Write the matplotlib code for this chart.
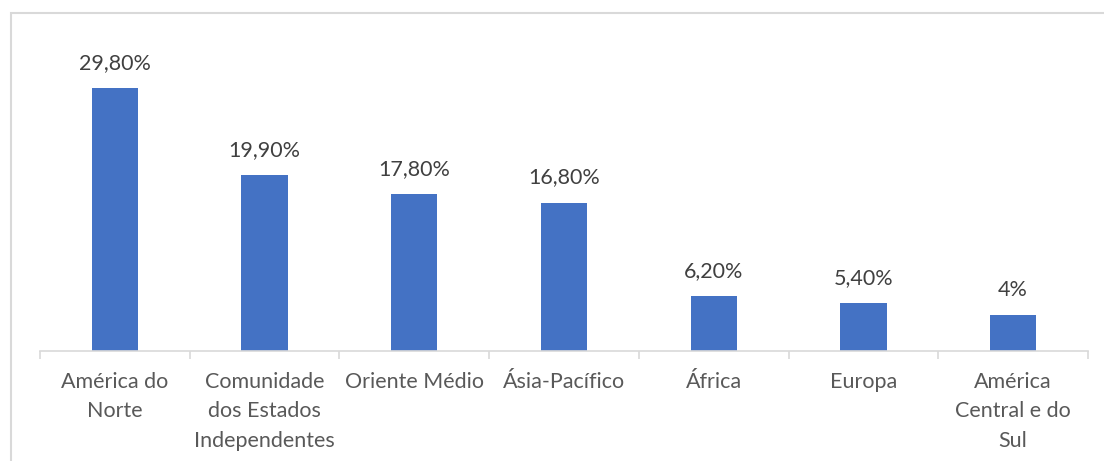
import matplotlib
matplotlib.use("Agg")
import matplotlib.pyplot as plt
from matplotlib.patches import Rectangle
from matplotlib.ticker import FixedLocator

plt.rcParams['font.family'] = ['Lato', 'DejaVu Sans']

# Data
categories = ["América do\nNorte", "Comunidade\ndos Estados\nIndependentes", "Oriente Médio",
              "Ásia-Pacífico", "África", "Europa", "América\nCentral e do\nSul"]
values = [29.8, 19.9, 17.8, 16.8, 6.2, 5.4, 4.0]
value_labels = ["29,80%", "19,90%", "17,80%", "16,80%", "6,20%", "5,40%", "4%"]

W, H = 1104, 461
fig = plt.figure(figsize=(W / 100, H / 100), dpi=100)
ax = fig.add_axes([40 / W, (H - 350.7) / H, (1088 - 40) / W, (350.7 - 42.5) / H])

x = list(range(len(categories)))
bars = ax.bar(x, values, width=0.31, color="#4472C4")

for rect, lab in zip(bars, value_labels):
    ax.annotate(lab, (rect.get_x() + rect.get_width() / 2, rect.get_height()),
                xytext=(0, 11), textcoords="offset points", ha="center", va="bottom",
                fontsize=15.5, color="#404040")

ax.set_xlim(-0.5, len(categories) - 0.5)
ax.set_ylim(0, 35)

ax.set_xticks(x)
ax.set_xticklabels(categories, fontsize=15.5, color="#595959", linespacing=1.6)
ax.tick_params(axis="x", which="major", length=0, pad=15)
ax.xaxis.set_minor_locator(FixedLocator([i - 0.5 for i in range(len(categories) + 1)]))
ax.tick_params(axis="x", which="minor", length=6, color="#D9D9D9", width=1.2)
ax.set_yticks([])

for side in ["top", "right", "left"]:
    ax.spines[side].set_visible(False)
ax.spines["bottom"].set_color("#D9D9D9")
ax.spines["bottom"].set_linewidth(1.2)

# light border of the chart area
fig.add_artist(Rectangle((11 / W, -0.1), 1.0, (H - 13) / H + 0.1, fill=False,
                         edgecolor="#D9D9D9", linewidth=1.5, transform=fig.transFigure))

fig.savefig("out.png", dpi=100)
